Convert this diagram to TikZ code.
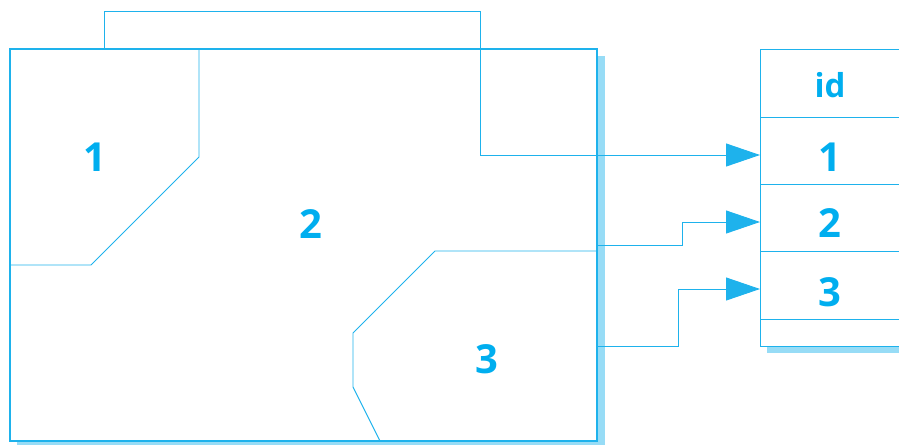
\documentclass[tikz,border=0pt]{standalone}
\usepackage{fontspec}
\setmainfont{Open Sans}
\usetikzlibrary{arrows.meta}
\definecolor{ln}{HTML}{1EB2EC}
\definecolor{tx}{HTML}{00AEEF}
\definecolor{sh}{HTML}{97DCF6}
\tikzset{
  edge/.style={draw=ln, line width=0.9pt},
  arr/.style={edge, -{Triangle[length=34pt,width=23pt]}},
  shade/.style={fill=sh, draw=none},
  lbl/.style={text=tx, font=\fontsize{40}{40}\selectfont\bfseries, inner sep=0pt},
  idl/.style={text=tx, font=\fontsize{33}{33}\selectfont\bfseries, inner sep=0pt},
  cell/.style={draw=ln, line width=0.9pt, minimum width=200pt, inner sep=0pt, anchor=north west},
}
\begin{document}
\begin{tikzpicture}[x=1pt,y=-1pt]
\useasboundingbox (0,0) rectangle (899,445);
% shadows
\fill[shade] (597,56) rectangle (605,445);
\fill[shade] (17,441) rectangle (605,445);
\fill[shade] (767,346) rectangle (960,353);
% big region
\draw[edge, line width=1.2pt] (10,49) rectangle (597,441);
% region 1
\draw[edge] (199,49) -- (199,157) -- (91,265) -- (10,265);
% region 3
\draw[edge] (597,251) -- (435,251) -- (353,333) -- (353,387) -- (380,441);
% labels
\node[lbl] (r1) at (95,157) {1};
\node[lbl] (r2) at (311,224) {2};
\node[lbl] (r3) at (487,359) {3};
% table
\node[cell, minimum height=68pt] (hd) at (760,49) {};
\node[cell, minimum height=67pt] (t1) at (760,117) {};
\node[cell, minimum height=67pt] (t2) at (760,184) {};
\node[cell, minimum height=68pt] (t3) at (760,251) {};
\node[cell, minimum height=27pt] (t4) at (760,319) {};
\node[idl] (idt) at (830,85) {id};
\node[lbl] (n1) at (830,157) {1};
\node[lbl] (n2) at (830,223) {2};
\node[lbl] (n3) at (830,292) {3};
% connectors
\coordinate (s1) at (104,49);
\coordinate (s2) at (597,245);
\coordinate (s3) at (597,346);
\draw[arr] (s1) -- (104,11) -- (480,11) -- (480,155) -- (t1.west |- 0,155);
\draw[arr] (s2) -- (682,245) -- (682,222) -- (t2.west |- 0,222);
\draw[arr] (s3) -- (678,346) -- (678,289) -- (t3.west |- 0,289);
\end{tikzpicture}
\end{document}
